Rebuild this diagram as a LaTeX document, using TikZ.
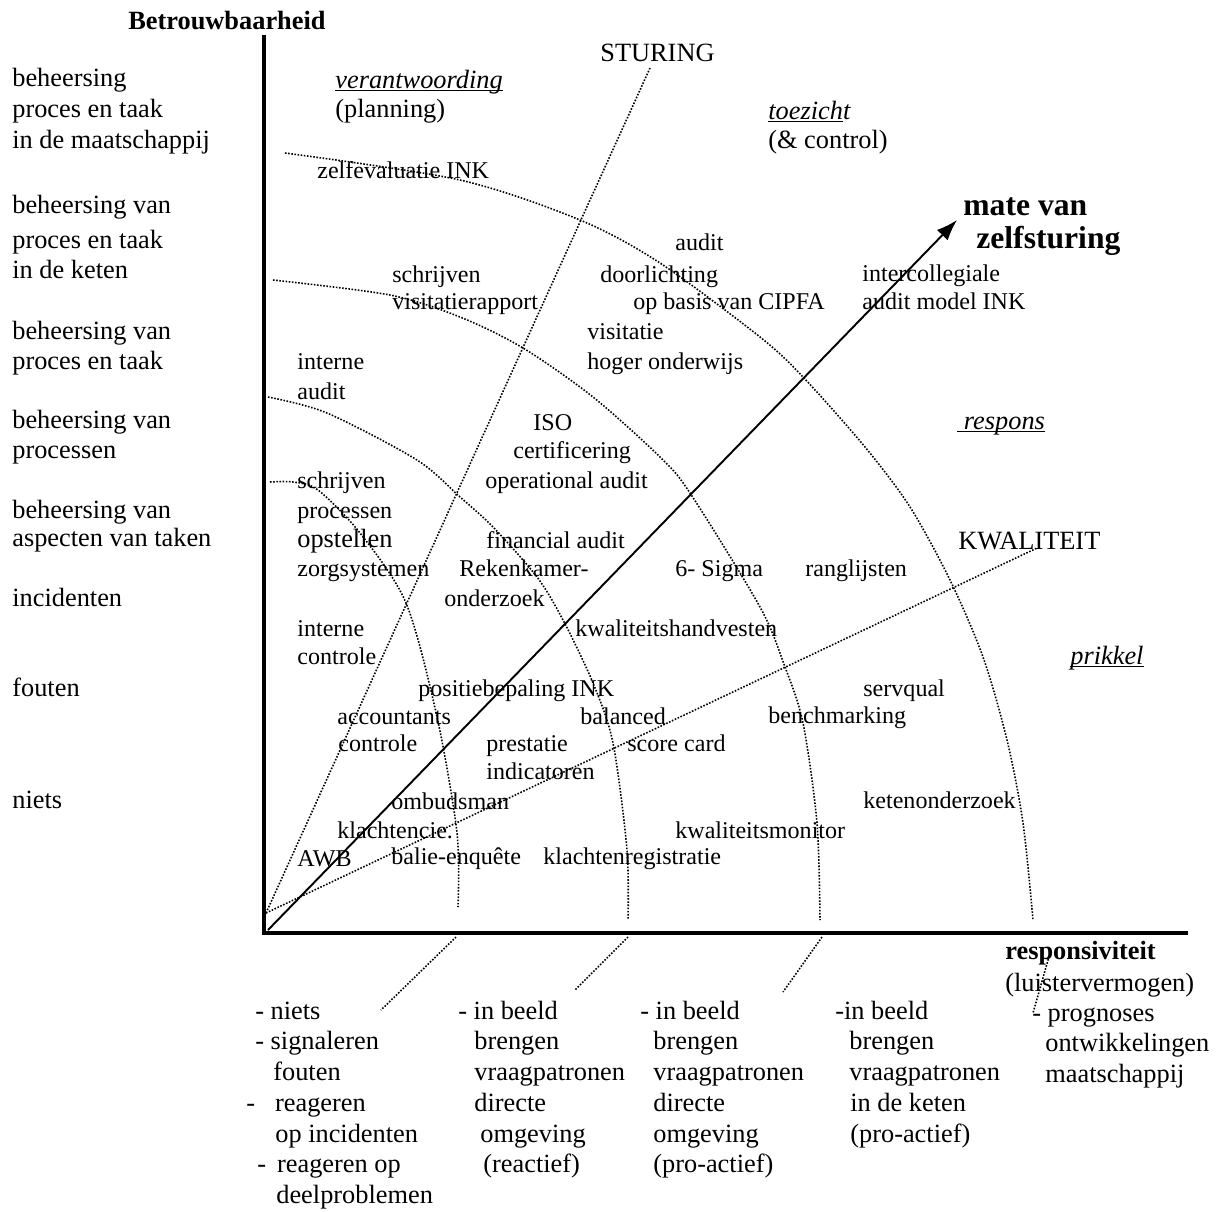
\documentclass[tikz,border=0pt]{standalone}
\usepackage{fontspec}
\setmainfont{Liberation Serif}
\usetikzlibrary{arrows.meta}
\tikzset{
    lbl/.style={anchor=base west,inner sep=0,font=\fontsize{15}{17.07}\selectfont},
    instr/.style={lbl,font=\fontsize{13.7}{17.07}\selectfont},
    boldlbl/.style={lbl,font=\fontsize{15}{17.07}\selectfont\bfseries},
    biglbl/.style={lbl,font=\fontsize{18}{19.3}\selectfont\bfseries},
    botlbl/.style={lbl,font=\fontsize{15}{17.5}\selectfont},
    axisline/.style={line width=2.8pt},
    guide/.style={line width=0.9pt,dash pattern=on 0.9pt off 0.9pt}
}
\newcommand{\ul}[1]{\underline{\smash{#1}}}
\newcommand{\txtrows}[1]{\begin{tabular}[t]{@{}l@{}}#1\end{tabular}}

\begin{document}
\begin{tikzpicture}[x=0.02cm,y=-0.02cm]
    \useasboundingbox (0,0) rectangle (1219,1211);

    % axes
    \coordinate (o) at (264,933);
    \coordinate (ytop) at (264,35);
    \coordinate (xend) at (1188,933);
    \draw[axisline] (ytop) -- (o) -- (xend);

    % sturing en kwaliteit
    \coordinate (s0) at (266,913);
    \coordinate (s1) at (650,68);
    \coordinate (k1) at (1037,548);
    \draw[guide] (s0) -- (s1);
    \draw[guide] (s0) -- (k1);

    % zelfsturing
    \coordinate (a0) at (268,930);
    \coordinate (a1) at (957,220);
    \draw[line width=1.1pt,-{Latex[length=0.42cm,width=0.3cm]}] (a0) -- (a1);

    % bogen
    \draw[guide] plot[smooth] coordinates {(270,482) (293,482) (318,490) (360,533) (406,603) (437,717) (457,833) (458,907)};
    \draw[guide] plot[smooth] coordinates {(268,397) (327,413) (417,460) (460,497) (493,527) (537,577) (563,620) (593,683) (613,743) (627,850) (628,920)};
    \draw[guide] plot[smooth] coordinates {(273,280) (390,295) (460,317) (523,348) (593,397) (660,457) (690,493) (760,607) (785,667) (803,723) (817,823) (820,920)};
    \draw[guide] plot[smooth] coordinates {(285,153) (460,180) (580,220) (660,263) (760,337) (803,377) (865,447) (910,507) (950,580) (983,657) (1007,740) (1023,823) (1033,920)};
    \draw[guide] (456,937) -- (381,1010);
    \draw[guide] (628,937) -- (575,990);
    \draw[guide] (822,937) -- (783,992);
    \draw[guide] (1050,953) -- (1033,1013);

    % betrouwbaarheid
    \node[boldlbl] (betr) at (128,29) {Betrouwbaarheid};
    \node[lbl] (b1) at (12,86) {\txtrows{beheersing\\[0.8pt]proces en taak\\[0.8pt]in de maatschappij}};
    \node[lbl] (b2) at (12,213) {\txtrows{beheersing van\\[3.4pt]proces en taak\\in de keten}};
    \node[lbl] (b3) at (12,339) {\txtrows{beheersing van\\proces en taak}};
    \node[lbl] (b4) at (12,428) {\txtrows{beheersing van\\processen}};
    \node[lbl] (b5) at (12,518) {\txtrows{beheersing van\\[-1pt]aspecten van taken}};
    \node[lbl] (b6) at (12,606) {incidenten};
    \node[lbl] (b7) at (12,696) {fouten};
    \node[lbl] (b8) at (12,808) {niets};

    % kwadranten
    \node[lbl] (sturing) at (600,61) {STURING};
    \node[lbl] (verantw) at (335,88) {\txtrows{\ul{\textit{verantwoording}}\\(planning)}};
    \node[lbl] (toezicht) at (768,119) {\txtrows{\ul{\textit{toezich}}\textit{t}\\(\& control)}};
    \node[biglbl] (mate) at (963,215) {\txtrows{mate van\\\hspace*{0.26cm}zelfsturing}};
    \node[lbl] (respons) at (957,429) {\ul{\textit{\ respons}}};
    \node[lbl] (kwal) at (958,549) {KWALITEIT};
    \node[lbl] (prikkel) at (1070,664) {\ul{\textit{prikkel}}};

    % instrumenten
    \node[instr] (zelfeval) at (317,178) {zelfevaluatie INK};
    \node[instr] (audit) at (675,250) {audit};
    \node[instr] (visrap) at (392,282) {\txtrows{schrijven\\[-1.7pt]visitatierapport}};
    \node[instr] (doorl) at (600,282) {doorlichting};
    \node[instr] (cipfa) at (633,309) {op basis van CIPFA};
    \node[instr] (interc) at (862,281) {\txtrows{intercollegiale\\[-1pt]audit model INK}};
    \node[instr] (visit) at (587,339) {\txtrows{visitatie\\hoger onderwijs}};
    \node[instr] (intaudit) at (297,369) {\txtrows{interne\\audit}};
    \node[instr] (iso) at (533,430) {ISO};
    \node[instr] (cert) at (513,458) {certificering};
    \node[instr] (opaudit) at (485,488) {operational audit};
    \node[instr] (zorgsys) at (297,488) {\txtrows{schrijven\\processen\\{\fontsize{15}{17.07}\selectfont opstellen}\\[-1pt]zorgsystemen}};
    \node[instr] (finaudit) at (486,548) {financial audit};
    \node[instr] (rekenk) at (459,576) {Rekenkamer-};
    \node[instr] (onderz) at (444,606) {onderzoek};
    \node[instr] (sigma) at (675,576) {6- Sigma};
    \node[instr] (rangl) at (805,576) {ranglijsten};
    \node[instr] (intcontr) at (297,636) {\txtrows{interne\\[-1pt]controle}};
    \node[instr] (handv) at (575,636) {kwaliteitshandvesten};
    \node[instr] (positie) at (418,696) {positiebepaling INK};
    \node[instr] (servq) at (863,696) {servqual};
    \node[instr] (accnt) at (337,724) {\txtrows{accountants\\[-1.7pt]\hspace*{0.02cm}controle}};
    \node[instr] (balanced) at (580,724) {balanced};
    \node[instr] (scorec) at (627,751) {score card};
    \node[instr] (benchm) at (768,723) {benchmarking};
    \node[instr] (prestatie) at (486,751) {\txtrows{prestatie\\[-1pt]indicatoren}};
    \node[instr] (ombuds) at (391,809) {ombudsman};
    \node[instr] (keten) at (863,808) {ketenonderzoek};
    \node[instr] (klachtc) at (337,838) {klachtencie.};
    \node[instr] (kwmon) at (675,838) {kwaliteitsmonitor};
    \node[instr] (awb) at (297,866) {AWB};
    \node[instr] (balie) at (391,864) {balie-enquête};
    \node[instr] (klreg) at (543,864) {klachtenregistratie};

    % responsiviteit
    \node[boldlbl] (resp) at (1005,959) {responsiviteit};
    \node[lbl] (luister) at (1005,991) {(luistervermogen)};
    \node[botlbl] (r1) at (246,1019) {\txtrows{\hspace*{0.18cm}- niets\\\hspace*{0.18cm}- signaleren\\\hspace*{0.54cm}fouten\\-\hspace*{0.4cm}reageren\\\hspace*{0.58cm}op incidenten\\\hspace*{0.22cm}-\hspace*{0.22cm}reageren op\\\hspace*{0.6cm}deelproblemen}};
    \node[botlbl] (r2) at (458,1019) {\txtrows{- in beeld\\\hspace*{0.32cm}brengen\\\hspace*{0.32cm}vraagpatronen\\\hspace*{0.32cm}directe\\\hspace*{0.44cm}omgeving\\\hspace*{0.5cm}(reactief)}};
    \node[botlbl] (r3) at (640,1019) {\txtrows{- in beeld\\\hspace*{0.26cm}brengen\\\hspace*{0.26cm}vraagpatronen\\\hspace*{0.26cm}directe\\\hspace*{0.26cm}omgeving\\\hspace*{0.26cm}(pro-actief)}};
    \node[botlbl] (r4) at (835,1019) {\txtrows{-in beeld\\\hspace*{0.28cm}brengen\\\hspace*{0.28cm}vraagpatronen\\\hspace*{0.3cm}in de keten\\\hspace*{0.3cm}(pro-actief)}};
    \node[botlbl] (r5) at (1032,1021) {\txtrows{- prognoses\\\hspace*{0.26cm}ontwikkelingen\\\hspace*{0.26cm}maatschappij}};
\end{tikzpicture}
\end{document}
